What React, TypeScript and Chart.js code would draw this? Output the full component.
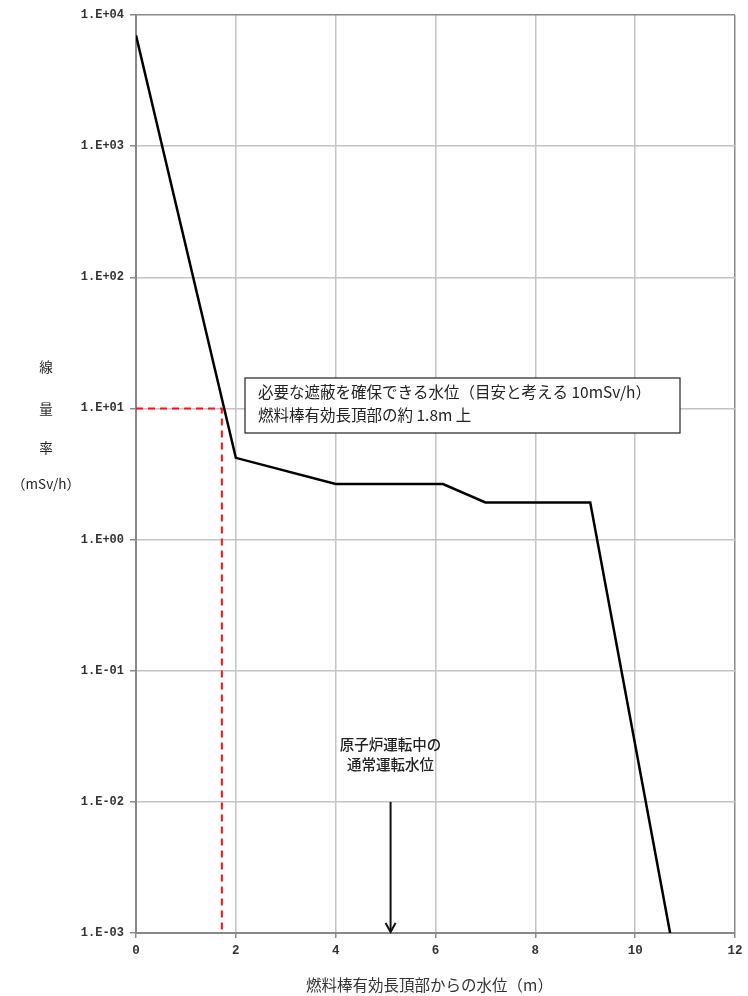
import React, { useEffect, useRef } from "react";
import { Chart, registerables } from "chart.js";

Chart.register(...registerables);

// Water level above top of active fuel (m)
const waterLevels = [0, 2, 4, 6.15, 7, 9.1, 10.7];
// Dose rate (mSv/h)
const doseRates = [7000, 4.2, 2.65, 2.65, 1.92, 1.92, 0.001];

// Red dashed reference: 10 mSv/h reached at about 1.72 m
const refX = [0, 1.72, 1.72];
const refY = [10, 10, 0.001];

// Arrow: normal operating water level
const arrowX = [5.1, 5.1];
const arrowY = [0.01, 0.001];

const xTicks = [0, 2, 4, 6, 8, 10, 12];
const yTicks = [0.001, 0.01, 0.1, 1, 10, 100, 1000, 10000];
const yTickLabels = ["1.E-03", "1.E-02", "1.E-01", "1.E+00", "1.E+01", "1.E+02", "1.E+03", "1.E+04"];

const yTitleChars = ["線", "量", "率", "（mSv/h）"];
const xTitle = "燃料棒有効長頂部からの水位（m）";
const boxLines = ["必要な遮蔽を確保できる水位（目安と考える 10mSv/h）", "燃料棒有効長頂部の約 1.8m 上"];
const arrowLabel = ["原子炉運転中の", "通常運転水位"];

const CJK = '"Noto Sans CJK JP", "Noto Sans", sans-serif';
const MONO = '"Liberation Mono", "DejaVu Sans Mono", monospace';

const textPlugin = {
  id: "texts",
  afterDraw(chart: any) {
    const ctx = chart.ctx;
    const ca = chart.chartArea;
    const xs = chart.scales.x;
    const ys = chart.scales.y;
    ctx.save();

    // Y title (stacked)
    ctx.fillStyle = "#222";
    ctx.textAlign = "center";
    ctx.textBaseline = "middle";
    ctx.font = `13.5px ${CJK}`;
    const yPos = [367, 409, 448, 484];
    yTitleChars.forEach((c, i) => {
      ctx.fillText(c, 46, yPos[i]);
    });

    // X title
    ctx.font = `15.5px ${CJK}`;
    ctx.fillStyle = "#333";
    ctx.fillText(xTitle, (ca.left + ca.right) / 2 - 6, 985);

    // Annotation box
    const bx = 245, by = 378, bw = 435, bh = 55;
    ctx.fillStyle = "#fff";
    ctx.fillRect(bx, by, bw, bh);
    ctx.strokeStyle = "#222";
    ctx.lineWidth = 1.2;
    ctx.strokeRect(bx, by, bw, bh);
    ctx.fillStyle = "#222";
    ctx.textAlign = "left";
    ctx.font = `15.5px ${CJK}`;
    ctx.fillText(boxLines[0], bx + 13, by + 14);
    ctx.fillText(boxLines[1], bx + 13, by + 37);

    // Arrow
    const ax = xs.getPixelForValue(arrowX[0]);
    const ay0 = ys.getPixelForValue(arrowY[0]);
    const ay1 = ys.getPixelForValue(arrowY[1]);
    ctx.strokeStyle = "#111";
    ctx.lineWidth = 2;
    ctx.beginPath();
    ctx.moveTo(ax, ay0);
    ctx.lineTo(ax, ay1 - 1);
    ctx.stroke();
    ctx.beginPath();
    ctx.moveTo(ax - 5, ay1 - 10);
    ctx.lineTo(ax, ay1 - 1);
    ctx.lineTo(ax + 5, ay1 - 10);
    ctx.stroke();

    ctx.textAlign = "center";
    ctx.font = `500 14.5px ${CJK}`;
    ctx.fillStyle = "#222";
    ctx.fillText(arrowLabel[0], ax, ay0 - 57);
    ctx.fillText(arrowLabel[1], ax, ay0 - 37);

    ctx.restore();
  },
};

export default function App() {
  const ref = useRef<HTMLCanvasElement>(null);
  useEffect(() => {
    if (!ref.current) return;
    const chart = new Chart(ref.current, {
      type: "line",
      data: {
        datasets: [
          {
            data: refX.map((x, i) => ({ x, y: refY[i] })),
            borderColor: "#ff1010",
            borderWidth: 2,
            borderDash: [7, 5],
            pointRadius: 0,
            tension: 0,
          },
          {
            data: waterLevels.map((x, i) => ({ x, y: doseRates[i] })),
            borderColor: "#000",
            borderWidth: 2.5,
            pointRadius: 0,
            tension: 0,
          },
        ],
      },
      options: {
        responsive: false,
        animation: false,
        layout: { padding: { left: 0, top: 15, right: 13, bottom: 33 } },
        plugins: { legend: { display: false }, tooltip: { enabled: false } },
        scales: {
          x: {
            type: "linear",
            min: 0,
            max: 12,
            afterBuildTicks: (s: any) => {
              s.ticks = xTicks.map((v) => ({ value: v }));
            },
            afterFit: (s: any) => {
              s.height = 30;
            },
            ticks: {
              font: { family: MONO, size: 12.5, weight: "bold" },
              color: "#333",
              padding: 5,
              maxRotation: 0,
            },
            grid: {
              color: (c: any) => (c.tick && c.tick.value === 12 ? "#888" : "#c4c4c4"),
              lineWidth: 1.5,
              tickLength: 5,
              tickColor: "#888",
            },
            border: { color: "#888", width: 2 },
          },
          y: {
            type: "logarithmic",
            min: 0.001,
            max: 10000,
            afterBuildTicks: (s: any) => {
              s.ticks = yTicks.map((v) => ({ value: v }));
            },
            afterFit: (s: any) => {
              s.width = 136;
            },
            ticks: {
              font: { family: MONO, size: 12, weight: "bold" },
              color: "#333",
              padding: 6,
              autoSkip: false,
              callback: (_v: any, i: number) => yTickLabels[i],
            },
            grid: {
              color: (c: any) => (c.tick && c.tick.value === 10000 ? "#888" : "#c4c4c4"),
              lineWidth: 1.5,
              tickLength: 6,
              tickColor: "#888",
            },
            border: { color: "#888", width: 2 },
          },
        },
      },
      plugins: [textPlugin],
    } as any);
    return () => chart.destroy();
  }, []);
  return (
    <div style={{ position: "absolute", left: 0, top: 0, width: 748, height: 996, background: "#fff" }}>
      <canvas ref={ref} width={748} height={996} />
    </div>
  );
}
